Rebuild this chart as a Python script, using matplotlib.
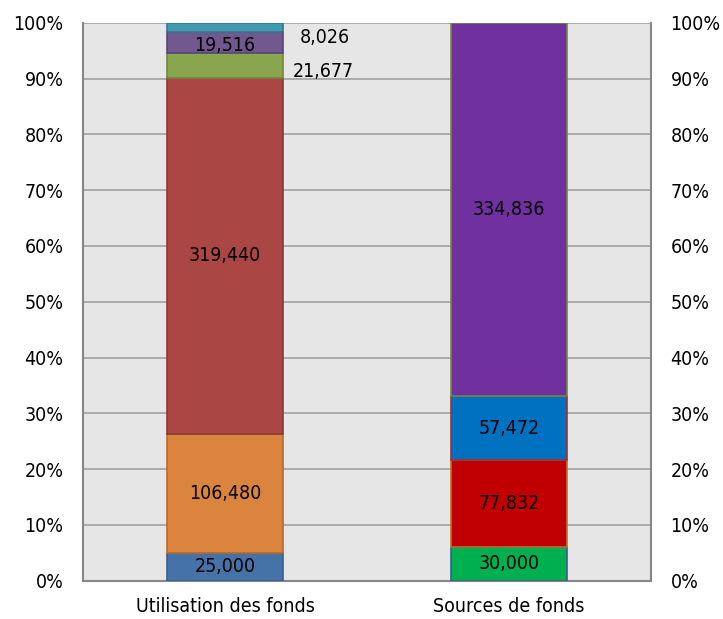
import matplotlib.pyplot as plt
import matplotlib.ticker as mtick

plt.rcParams['font.family'] = ['DejaVu Sans']
plt.rcParams['font.stretch'] = 'condensed'

categories = ["Utilisation des fonds", "Sources de fonds"]

# Utilisation des fonds (bottom to top)
uses = [25000, 106480, 319440, 21677, 19516, 8026]
uses_colors = ["#4572A7", "#DB843D", "#AA4643", "#89A54E", "#71588F", "#4198AF"]
uses_edges = ["#38608F", "#B96B2C", "#8C3836", "#6F8A3E", "#5A4675", "#33798C"]

# Sources de fonds (bottom to top)
sources = [30000, 77832, 57472, 334836]
sources_colors = ["#00B050", "#C00000", "#0070C0", "#7030A0"]
sources_edges = ["#3A5F8F", "#B3742C", "#A03030", "#6F8A3E"]

fs = 14
width = 0.41

fig = plt.figure(figsize=(7.23, 6.19), dpi=100)
ax = fig.add_axes([83 / 723, 1 - 580.7 / 619, 568 / 723, 558 / 619])
ax.set_facecolor("#E6E6E6")


def stack(x, vals, colors, edges):
    total = sum(vals)
    bottom = 0
    mids = []
    for v, c, e in zip(vals, colors, edges):
        h = v / total
        ax.bar(x, h, width, bottom=bottom, color=c, edgecolor=e, linewidth=1.2, zorder=3)
        mids.append(bottom + h / 2)
        bottom += h
    return mids


m1 = stack(0, uses, uses_colors, uses_edges)
m2 = stack(1, sources, sources_colors, sources_edges)

# labels inside the left bar
for i in [0, 1, 2]:
    ax.text(0, m1[i], f"{uses[i]:,}", ha="center", va="center", fontsize=fs, zorder=4)
ax.text(0, m1[4] - 0.005, f"{uses[4]:,}", ha="center", va="center", fontsize=fs, zorder=4)
# small segments labelled outside
ax.text(0.35, m1[5] - 0.018, f"{uses[5]:,}", ha="center", va="center", fontsize=fs, zorder=4)
ax.text(0.345, m1[3] - 0.01, f"{uses[3]:,}", ha="center", va="center", fontsize=fs, zorder=4)

for i in range(len(sources)):
    ax.text(1, m2[i], f"{sources[i]:,}", ha="center", va="center", fontsize=fs, zorder=4)

ax.set_xlim(-0.5, 1.5)
ax.set_ylim(0, 1)
ax.set_xticks([0, 1])
ax.set_xticklabels(categories, fontsize=fs)
ax.set_yticks([i / 10 for i in range(11)])
ax.yaxis.set_major_formatter(mtick.PercentFormatter(1.0, decimals=0))
ax.tick_params(axis="y", labelsize=fs, length=0, pad=14, labelright=True)
ax.tick_params(axis="x", length=0, pad=12)
ax.yaxis.grid(True, color="#A6A6A6", linewidth=1.3, zorder=1)
ax.set_axisbelow(True)

for s in ["left", "bottom", "right"]:
    ax.spines[s].set_color("#878787")
    ax.spines[s].set_linewidth(1.5)
ax.spines["top"].set_visible(False)

plt.savefig("out.png", dpi=100)
